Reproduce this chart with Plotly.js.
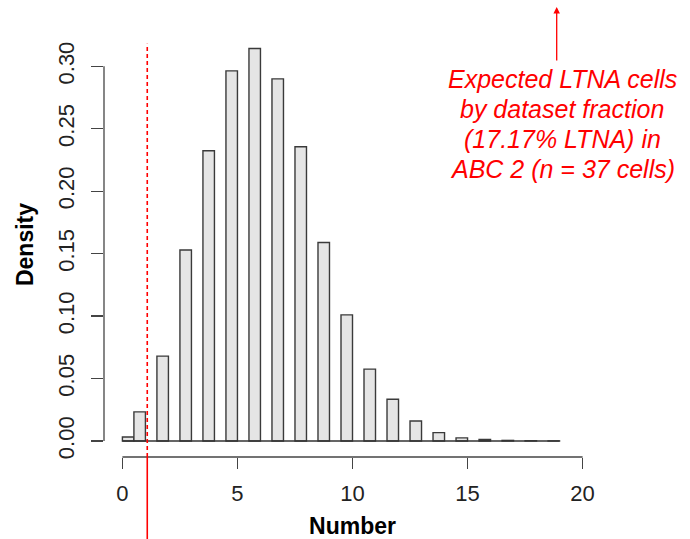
<!DOCTYPE html>
<html><head><meta charset="utf-8">
<script src="https://cdn.plot.ly/plotly-3.0.1.min.js"></script>
<style>html,body{margin:0;padding:0;background:#fff}</style>
</head><body><div id="chart" style="width:690px;height:539px"></div>
<script>
// ---- data ----
const counts = [0,1,2,3,4,5,6,7,8,9,10,11,12,13,14,15,16,17,18,19];
const density = [0.0032,0.0233,0.068,0.153,0.2324,0.2964,0.3143,0.290,0.2356,0.159,
                 0.101,0.0576,0.0335,0.016,0.0067,0.0025,0.0012,0.0005,0.0002,0.0001];
const binWidth = 0.5;
const xTicks = [0,5,10,15,20];
const yTicks = [0,0.05,0.10,0.15,0.20,0.25,0.30];
const yTickLabels = ['0.00','0.05','0.10','0.15','0.20','0.25','0.30'];
const observedValue = 1.08;
const dashedTop = 0.318;
const noteLines = ['Expected LTNA cells','by dataset fraction','(17.17% LTNA) in','ABC 2 (n = 37 cells)'];
const xTitle = 'Number';
const yTitle = 'Density';

// ---- build ----
const W = 690, H = 539;
const M = {l:104, r:89, t:32, b:82};
const plotH = H - M.t - M.b, plotW = W - M.l - M.r;
const py = p => (H - M.b - p) / plotH;   // pixel y -> paper y
const px = p => (p - M.l) / plotW;       // pixel x -> paper x

const binRight = counts.map(k => Math.max(k, binWidth));
const binCenter = binRight.map(r => r - binWidth / 2);

const axisCol = '#444';
const font = 'Liberation Sans, Arial, sans-serif';

const traces = [
  { type:'scatter', mode:'lines', x:[0, counts[counts.length-1]], y:[0,0],
    line:{color:'#333', width:1.3}, hoverinfo:'skip', showlegend:false },
  { type:'bar', x:binCenter, y:density, width:binWidth,
    marker:{color:'#e5e5e5', line:{color:'#3a3a3a', width:1.4}}, showlegend:false }
];

const shapes = [
  {type:'line', xref:'x', yref:'paper', x0:xTicks[0], x1:xTicks[xTicks.length-1], y0:0, y1:0,
   line:{color:axisCol, width:1.3}},
  {type:'line', xref:'paper', yref:'y', x0:0, x1:0, y0:yTicks[0], y1:yTicks[yTicks.length-1],
   line:{color:axisCol, width:1.3}},
  {type:'line', xref:'x', yref:'y', x0:observedValue, x1:observedValue, y0:-0.0128, y1:dashedTop,
   line:{color:'#ff0000', width:1.6, dash:'4px,3px'}},
  {type:'line', xref:'x', yref:'paper', x0:observedValue, x1:observedValue, y0:0, y1:py(H+2),
   line:{color:'#ff0000', width:1.6}}
];

const noteCx = 562, noteMid = [79,109,139,169];
const annotations = noteLines.map((t,i) => ({
  xref:'paper', yref:'paper', x:px(noteCx), y:py(noteMid[i]), xanchor:'center', yanchor:'middle',
  text:'<i>'+t+'</i>', showarrow:false, font:{family:font, size:25, color:'#ff0000'}
}));
annotations.push({
  xref:'paper', yref:'paper', x:px(556.7), y:py(7), text:'', showarrow:true,
  ax:0, ay:55, arrowhead:2, arrowsize:1, arrowwidth:1.3, arrowcolor:'#ff0000'
});

const layout = {
  width:W, height:H, margin:M, paper_bgcolor:'#fff', plot_bgcolor:'#fff',
  font:{family:font, color:'#222'},
  bargap:0,
  xaxis:{range:[-0.8,20.8], tickvals:xTicks, ticktext:xTicks.map(String),
    showgrid:false, zeroline:false, showline:false,
    ticks:'outside', ticklen:11, tickwidth:1.3, tickcolor:axisCol,
    tickfont:{size:22, color:'#222'}, ticklabelstandoff:6,
    title:{text:'<b>'+xTitle+'</b>', font:{size:23, color:'#000'}, standoff:14}},
  yaxis:{range:[-0.0128,0.3275], tickvals:yTicks, ticktext:yTickLabels, tickangle:-90,
    showgrid:false, zeroline:false, showline:false,
    ticks:'outside', ticklen:12, tickwidth:1.3, tickcolor:axisCol,
    tickfont:{size:22, color:'#222'}, ticklabelstandoff:8,
    title:{text:'<b>'+yTitle+'</b>', font:{size:23, color:'#000'}, standoff:14}},
  shapes:shapes, annotations:annotations
};

Plotly.newPlot('chart', traces, layout, {displayModeBar:false, staticPlot:true});
</script></body></html>
